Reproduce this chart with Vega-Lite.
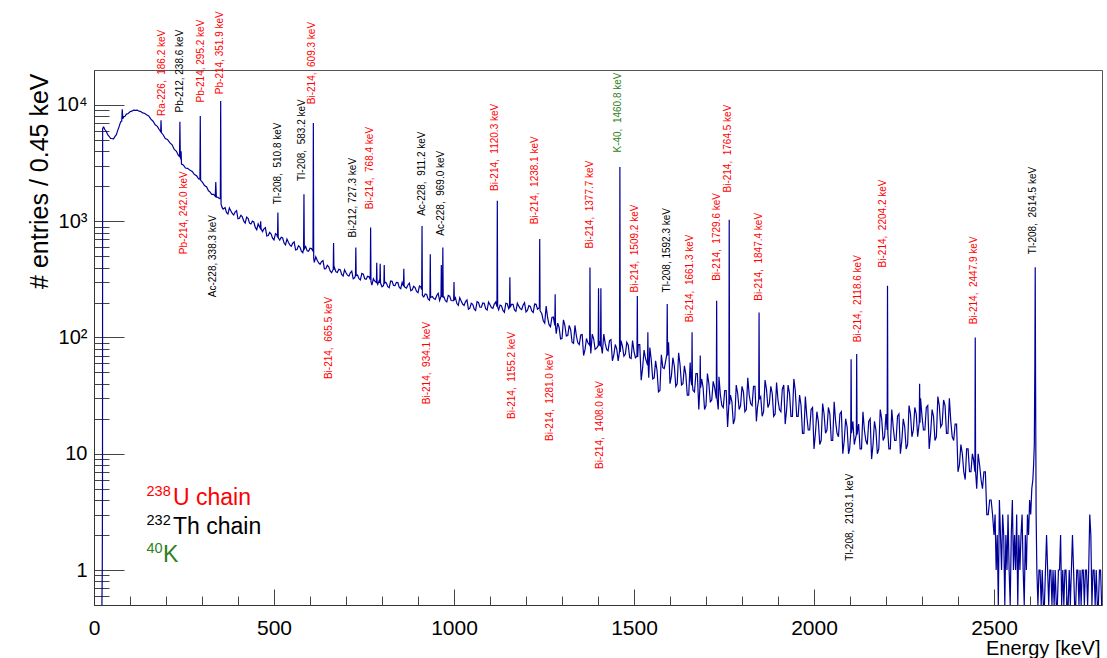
{
"$schema": "https://vega.github.io/schema/vega-lite/v6.json",
"width": 1008, "height": 535,
"autosize": {"type": "none"},
"padding": {"left": 94, "top": 70, "right": 5, "bottom": 53},
"background": "white",
"config": {"view": {"stroke": "#555", "strokeWidth": 1}, "font": "Liberation Sans"},
"datasets": {
"spec": [
{"E":22,"n":0},{"E":23,"n":1},{"E":23.6,"n":5},{"E":24,"n":6300},{"E":27,"n":6450},{"E":30,"n":6150},{"E":34,"n":5950},{"E":38,"n":5550},{"E":42,"n":5380},{"E":46,"n":5150},{"E":50,"n":5150},{"E":54,"n":5100},{"E":58,"n":5350},{"E":62,"n":5550},{"E":66,"n":6050},{"E":70,"n":6550},{"E":74,"n":7150},{"E":77,"n":7250},{"E":78.5,"n":9200},{"E":80,"n":7600},{"E":83,"n":7950},{"E":86,"n":8000},{"E":90,"n":8350},{"E":95,"n":8450},{"E":100,"n":8750},{"E":105,"n":8850},{"E":110,"n":9050},{"E":115,"n":9000},{"E":120,"n":9050},{"E":125,"n":8850},{"E":130,"n":8800},{"E":135,"n":8550},{"E":140,"n":8500},{"E":146,"n":8250},{"E":152,"n":8050},{"E":158,"n":7550},{"E":164,"n":7250},{"E":170,"n":6750},{"E":176,"n":6550},{"E":181,"n":6150},{"E":185.2,"n":5900},{"E":186.2,"n":7400},{"E":187.2,"n":5800},{"E":192,"n":5550},{"E":198,"n":5150},{"E":204,"n":5050},{"E":211,"n":4720},{"E":217,"n":4550},{"E":223,"n":4150},{"E":229,"n":4000},{"E":234,"n":3700},{"E":237.6,"n":3600},{"E":238.6,"n":7160},{"E":239.6,"n":4000},{"E":241,"n":3400},{"E":242,"n":4000},{"E":243,"n":3100},{"E":248,"n":3050},{"E":254,"n":2870},{"E":260,"n":2850},{"E":267,"n":2740},{"E":273,"n":2680},{"E":279,"n":2520},{"E":285,"n":2460},{"E":291,"n":2310},{"E":294.2,"n":2300},{"E":295.2,"n":8060},{"E":296.2,"n":2250},{"E":301,"n":2170},{"E":307,"n":2030},{"E":313,"n":1970},{"E":318,"n":1830},{"E":322,"n":1790},{"E":327,"n":1700},{"E":332,"n":1700},{"E":336.8,"n":1640},{"E":338.3,"n":2180},{"E":339.8,"n":1620},{"E":344,"n":1610},{"E":348,"n":1570},{"E":350.9,"n":1560},{"E":351.9,"n":10800},{"E":353,"n":1400},{"E":356,"n":1310},{"E":359,"n":1270},
{"E":364,"n":1310},{"E":372,"n":1152},{"E":380,"n":1229},{"E":388,"n":1134},{"E":396,"n":1231},{"E":404,"n":1059},{"E":412,"n":1092},{"E":420,"n":963},{"E":428,"n":1061},{"E":436,"n":947},{"E":444,"n":985},{"E":452,"n":846},{"E":460,"n":891},{"E":462,"n":870},{"E":463,"n":1000},{"E":464,"n":865},{"E":468,"n":814},{"E":476,"n":880},{"E":484,"n":754},{"E":492,"n":777},{"E":500,"n":690},{"E":508,"n":766},{"E":509.8,"n":725},{"E":510.8,"n":1190},{"E":511.8,"n":720},{"E":516,"n":688},{"E":524,"n":718},{"E":532,"n":625},{"E":540,"n":660},{"E":548,"n":610},{"E":556,"n":664},{"E":564,"n":572},{"E":572,"n":599},{"E":580,"n":537},{"E":582.2,"n":580},{"E":583.2,"n":1710},{"E":584.2,"n":578},{"E":588,"n":607},{"E":596,"n":551},{"E":604,"n":582},{"E":608.3,"n":555},{"E":609.3,"n":7000},{"E":610.3,"n":480},{"E":612,"n":442},{"E":620,"n":461},{"E":628,"n":426},{"E":636,"n":459},{"E":644,"n":391},{"E":652,"n":406},{"E":660,"n":361},{"E":664.5,"n":385},{"E":665.5,"n":650},{"E":666.5,"n":383},{"E":668,"n":401},{"E":676,"n":363},{"E":684,"n":383},{"E":692,"n":338},{"E":700,"n":360},{"E":708,"n":337},{"E":716,"n":373},{"E":724,"n":326},{"E":726.3,"n":342},{"E":727.3,"n":595},{"E":728.3,"n":341},{"E":732,"n":345},{"E":740,"n":313},{"E":748,"n":351},{"E":756,"n":317},{"E":764,"n":333},{"E":767.4,"n":315},{"E":768.4,"n":885},{"E":769.4,"n":302},{"E":772,"n":282},{"E":780,"n":305},{"E":784.4,"n":297},{"E":785.4,"n":440},{"E":786.4,"n":296},{"E":788,"n":287},{"E":793.9,"n":295},{"E":794.9,"n":430},{"E":795.9,"n":294},{"E":804,"n":279},{"E":805.2,"n":292},{"E":806.2,"n":420},{"E":807.2,"n":291},{"E":812,"n":295},{"E":820,"n":268},{"E":828,"n":304},{"E":836,"n":279},{"E":844,"n":297},{"E":852,"n":263},{"E":859.6,"n":277},{"E":860.6,"n":390},{"E":861.6,"n":276},{"E":868,"n":266},{"E":876,"n":293},{"E":884,"n":257},{"E":892,"n":269},{"E":900,"n":243},{"E":908,"n":272},{"E":910.2,"n":258},{"E":911.2,"n":912},{"E":912.2,"n":230},{"E":916,"n":223},{"E":924,"n":235},{"E":932,"n":209},{"E":933.1,"n":222},{"E":934.1,"n":521},{"E":935.1,"n":221},{"E":940,"n":225},{"E":948,"n":213},{"E":956,"n":240},{"E":963.8,"n":225},{"E":964.8,"n":420},{"E":965.8,"n":226},{"E":968,"n":226},{"E":969,"n":595},{"E":970,"n":222},{"E":972,"n":224},{"E":980,"n":202},{"E":988,"n":227},{"E":996,"n":207},{"E":999,"n":207},{"E":1000,"n":300},{"E":1001,"n":210},
{"E":1004,"n":220},{"E":1012,"n":189},{"E":1020,"n":206},{"E":1028,"n":189},{"E":1036,"n":211},{"E":1044,"n":179},{"E":1052,"n":193},{"E":1060,"n":171},{"E":1068,"n":200},{"E":1076,"n":182},{"E":1084,"n":197},{"E":1092,"n":172},{"E":1100,"n":191},{"E":1108,"n":178},{"E":1116,"n":202},{"E":1119.3,"n":184},{"E":1120.3,"n":1500},{"E":1121.3,"n":183},{"E":1124,"n":173},{"E":1132,"n":187},{"E":1140,"n":165},{"E":1148,"n":195},{"E":1154.2,"n":182},{"E":1155.2,"n":329},{"E":1156.2,"n":182},{"E":1164,"n":193},{"E":1172,"n":168},{"E":1180,"n":186},{"E":1188,"n":174},{"E":1196,"n":199},{"E":1204,"n":171},{"E":1212,"n":185},{"E":1220,"n":164},{"E":1228,"n":193},{"E":1237.1,"n":180},{"E":1238.1,"n":702},{"E":1239.1,"n":170},
{"E":1244,"n":160},{"E":1252,"n":133},{"E":1260,"n":148},{"E":1268,"n":124},{"E":1276,"n":150},{"E":1280,"n":127},{"E":1281,"n":236},{"E":1282,"n":125},{"E":1284,"n":108},{"E":1292,"n":122},{"E":1300,"n":98},{"E":1308,"n":127},{"E":1316,"n":104},{"E":1324,"n":117},{"E":1332,"n":89},{"E":1340,"n":103},{"E":1348,"n":87},{"E":1356,"n":106},{"E":1364,"n":79},{"E":1372,"n":90},{"E":1376.7,"n":86},{"E":1377.7,"n":400},{"E":1378.7,"n":86},{"E":1380,"n":73},{"E":1388,"n":97},{"E":1396,"n":81},{"E":1400.5,"n":85},{"E":1401.5,"n":265},{"E":1402.5,"n":85},{"E":1404,"n":93},{"E":1407,"n":84},{"E":1408,"n":265},{"E":1409,"n":84},{"E":1412,"n":73},{"E":1420,"n":89},{"E":1428,"n":77},{"E":1436,"n":96},{"E":1444,"n":71},{"E":1452,"n":80},{"E":1459.8,"n":76},{"E":1460.8,"n":2930},{"E":1461.8,"n":75},{"E":1468,"n":84},{"E":1476,"n":72},{"E":1484,"n":86},{"E":1492,"n":66},{"E":1500,"n":76},
{"E":1508.2,"n":69},{"E":1509.2,"n":227},{"E":1510.2,"n":68},{"E":1516,"n":87},{"E":1524,"n":55},{"E":1532,"n":66},{"E":1537.5,"n":58},{"E":1538.5,"n":111},{"E":1539.5,"n":57},{"E":1541,"n":45},{"E":1548,"n":64},{"E":1556,"n":45},{"E":1564,"n":52},{"E":1572,"n":35},{"E":1580,"n":55},{"E":1588,"n":63},{"E":1591.3,"n":72},{"E":1592.3,"n":194},{"E":1593.3,"n":70},{"E":1596,"n":91},{"E":1604,"n":47},{"E":1612,"n":57},{"E":1620,"n":40},{"E":1628,"n":58},{"E":1636,"n":40},{"E":1644,"n":48},{"E":1652,"n":32},{"E":1658,"n":43},{"E":1660.3,"n":39},{"E":1661.3,"n":111},{"E":1662.3,"n":39},{"E":1668,"n":34},{"E":1676,"n":49},{"E":1683,"n":37},{"E":1684,"n":70},{"E":1685,"n":37},{"E":1692,"n":37},{"E":1700,"n":26},{"E":1708,"n":40},{"E":1716,"n":29},{"E":1724,"n":37},{"E":1728.6,"n":30},{"E":1729.6,"n":207},{"E":1730.6,"n":30},{"E":1734,"n":24},{"E":1740,"n":32},{"E":1748,"n":25},{"E":1756,"n":35},{"E":1763.5,"n":26.5},{"E":1764.5,"n":1030},{"E":1765.5,"n":26.5},{"E":1772,"n":28},{"E":1780,"n":20},{"E":1788,"n":33},{"E":1796,"n":26},{"E":1804,"n":34},{"E":1812,"n":24},{"E":1820,"n":32},{"E":1828,"n":26},{"E":1836,"n":38},{"E":1843,"n":25},{"E":1846.4,"n":29.5},{"E":1847.4,"n":164},{"E":1848.4,"n":29.5},{"E":1852,"n":31},{"E":1860,"n":23},{"E":1868,"n":36},{"E":1876,"n":27},{"E":1884,"n":33},{"E":1892,"n":22},{"E":1900,"n":29},
{"E":1908,"n":23},{"E":1916,"n":39},{"E":1924,"n":24},{"E":1932,"n":33},{"E":1940,"n":21},{"E":1948,"n":35},{"E":1956,"n":21},{"E":1964,"n":26},{"E":1972,"n":15},{"E":1980,"n":21},{"E":1988,"n":16},{"E":1996,"n":25},{"E":2004,"n":15},{"E":2012,"n":19},{"E":2020,"n":13},{"E":2028,"n":22},{"E":2036,"n":16},{"E":2044,"n":22},{"E":2052,"n":13},{"E":2060,"n":19},{"E":2068,"n":14},{"E":2076,"n":23},{"E":2084,"n":13},{"E":2092,"n":17},{"E":2099,"n":11},{"E":2102.1,"n":15},{"E":2103.1,"n":65},{"E":2104.1,"n":15},{"E":2108,"n":19},{"E":2114,"n":13},{"E":2117.6,"n":14.6},{"E":2118.6,"n":72},{"E":2119.6,"n":14.6},{"E":2124,"n":18},{"E":2132,"n":11},{"E":2140,"n":16},{"E":2148,"n":12},{"E":2156,"n":20},{"E":2164,"n":12},{"E":2172,"n":16},{"E":2180,"n":11},{"E":2188,"n":20},{"E":2196,"n":14},{"E":2203.2,"n":16},{"E":2204.2,"n":279},{"E":2205.2,"n":15},{"E":2212,"n":11},{"E":2220,"n":17},{"E":2228,"n":13},{"E":2236,"n":22},{"E":2244,"n":13},{"E":2252,"n":17},{"E":2260,"n":12},{"E":2268,"n":22},{"E":2276,"n":16},{"E":2284,"n":22},{"E":2292.4,"n":18.5},{"E":2293.4,"n":40},{"E":2294.4,"n":18.5},{"E":2300,"n":21},{"E":2308,"n":16},{"E":2316,"n":26},{"E":2324,"n":15},{"E":2332,"n":21},{"E":2340,"n":14},{"E":2348,"n":26},{"E":2356,"n":18},{"E":2364,"n":26},{"E":2372,"n":15},{"E":2380,"n":19},{"E":2388,"n":13},{"E":2396,"n":18},{"E":2404,"n":8},{"E":2412,"n":10},{"E":2420,"n":6},{"E":2428,"n":11},{"E":2436,"n":7},{"E":2443,"n":9},{"E":2446.9,"n":7},{"E":2447.9,"n":100},{"E":2448.9,"n":7},{"E":2452,"n":5},{"E":2460,"n":8},{"E":2468,"n":5},{"E":2476,"n":7},{"E":2484,"n":3},{"E":2492,"n":4},{"E":2500,"n":2},
{"E":368,"n":1190},{"E":376,"n":1299},{"E":384,"n":1166},{"E":392,"n":1201},{"E":400,"n":1050},{"E":408,"n":1127},{"E":416,"n":1001},{"E":424,"n":1087},{"E":432,"n":963},{"E":440,"n":1001},{"E":448,"n":885},{"E":456,"n":949},{"E":472,"n":860},{"E":480,"n":748},{"E":488,"n":802},{"E":496,"n":715},{"E":504,"n":782},{"E":520,"n":728},{"E":528,"n":649},{"E":536,"n":702},{"E":544,"n":627},{"E":552,"n":647},{"E":560,"n":566},{"E":568,"n":614},{"E":576,"n":554},{"E":592,"n":556},{"E":600,"n":587},{"E":616,"n":493},{"E":624,"n":438},{"E":632,"n":449},{"E":640,"n":389},{"E":648,"n":418},{"E":656,"n":374},{"E":672,"n":367},{"E":680,"n":386},{"E":688,"n":348},{"E":696,"n":382},{"E":704,"n":344},{"E":712,"n":360},{"E":720,"n":320},{"E":736,"n":321},{"E":744,"n":356},{"E":752,"n":320},{"E":760,"n":336},{"E":776,"n":321},{"E":792,"n":307},{"E":800,"n":273},{"E":808,"n":300},{"E":816,"n":274},{"E":824,"n":306},{"E":832,"n":280},{"E":840,"n":298},{"E":848,"n":270},{"E":856,"n":298},{"E":864,"n":271},{"E":872,"n":283},{"E":880,"n":252},{"E":888,"n":276},{"E":896,"n":249},{"E":904,"n":277},{"E":920,"n":237},{"E":928,"n":215},{"E":944,"n":216},{"E":952,"n":230},{"E":960,"n":208},{"E":976,"n":207},{"E":984,"n":230},{"E":992,"n":208},
{"E":1008,"n":196},{"E":1016,"n":220},{"E":1024,"n":194},{"E":1032,"n":204},{"E":1040,"n":175},{"E":1048,"n":197},{"E":1056,"n":176},{"E":1064,"n":203},{"E":1072,"n":182},{"E":1080,"n":198},{"E":1088,"n":177},{"E":1096,"n":202},{"E":1104,"n":181},{"E":1112,"n":194},{"E":1128,"n":190},{"E":1136,"n":171},{"E":1144,"n":197},{"E":1152,"n":177},{"E":1160,"n":193},{"E":1168,"n":173},{"E":1176,"n":197},{"E":1184,"n":177},{"E":1192,"n":190},{"E":1200,"n":166},{"E":1208,"n":188},{"E":1216,"n":169},{"E":1224,"n":194},{"E":1232,"n":175},
{"E":1248,"n":139},{"E":1256,"n":186},{"E":1264,"n":129},{"E":1272,"n":149},{"E":1288,"n":133},{"E":1296,"n":97},{"E":1304,"n":142},{"E":1312,"n":103},{"E":1320,"n":127},{"E":1328,"n":91},{"E":1336,"n":127},{"E":1344,"n":90},{"E":1352,"n":105},{"E":1360,"n":70},{"E":1368,"n":98},{"E":1384,"n":107},{"E":1392,"n":79},{"E":1416,"n":107},{"E":1424,"n":79},{"E":1432,"n":94},{"E":1440,"n":63},{"E":1448,"n":87},{"E":1456,"n":63},{"E":1464,"n":94},{"E":1472,"n":69},{"E":1480,"n":91},{"E":1488,"n":67},{"E":1496,"n":94},{"E":1504,"n":67},
{"E":1512,"n":87},{"E":1520,"n":43},{"E":1528,"n":78},{"E":1544,"n":82},{"E":1552,"n":44},{"E":1560,"n":63},{"E":1568,"n":34},{"E":1576,"n":71},{"E":1584,"n":54},{"E":1600,"n":40},{"E":1608,"n":67},{"E":1616,"n":38},{"E":1624,"n":74},{"E":1632,"n":39},{"E":1640,"n":57},{"E":1648,"n":32},{"E":1656,"n":61},{"E":1664,"n":35},{"E":1672,"n":49},{"E":1680,"n":24},{"E":1688,"n":44},{"E":1696,"n":24},{"E":1704,"n":49},{"E":1712,"n":28},{"E":1720,"n":42},{"E":1736,"n":46},{"E":1744,"n":26},{"E":1752,"n":35},{"E":1760,"n":17},{"E":1768,"n":32},{"E":1776,"n":18},{"E":1784,"n":39},{"E":1792,"n":24},{"E":1800,"n":38},{"E":1808,"n":23},{"E":1816,"n":45},{"E":1824,"n":27},{"E":1832,"n":38},{"E":1840,"n":19},{"E":1856,"n":21},{"E":1864,"n":43},{"E":1872,"n":25},{"E":1880,"n":38},{"E":1888,"n":21},{"E":1896,"n":41},{"E":1904,"n":24},
{"E":1912,"n":36},{"E":1920,"n":18},{"E":1928,"n":39},{"E":1936,"n":21},{"E":1944,"n":44},{"E":1952,"n":21},{"E":1960,"n":32},{"E":1968,"n":15},{"E":1976,"n":31},{"E":1984,"n":16},{"E":1992,"n":24},{"E":2000,"n":11},{"E":2008,"n":23},{"E":2016,"n":12},{"E":2024,"n":27},{"E":2032,"n":15},{"E":2040,"n":25},{"E":2048,"n":13},{"E":2056,"n":28},{"E":2064,"n":15},{"E":2072,"n":22},{"E":2080,"n":10},{"E":2088,"n":20},{"E":2096,"n":10},{"E":2112,"n":12},{"E":2128,"n":11},{"E":2136,"n":23},{"E":2144,"n":13},{"E":2152,"n":19},{"E":2160,"n":9},{"E":2168,"n":19},{"E":2176,"n":10},{"E":2184,"n":24},{"E":2192,"n":13},{"E":2200,"n":22},{"E":2208,"n":11},{"E":2216,"n":24},{"E":2224,"n":13},{"E":2232,"n":21},{"E":2240,"n":10},{"E":2248,"n":20},{"E":2256,"n":11},{"E":2264,"n":26},{"E":2272,"n":14},{"E":2280,"n":25},{"E":2288,"n":14},{"E":2296,"n":30},{"E":2304,"n":16},{"E":2312,"n":25},{"E":2320,"n":11},{"E":2328,"n":24},{"E":2336,"n":13},{"E":2344,"n":31},{"E":2352,"n":17},{"E":2360,"n":29},{"E":2368,"n":15},{"E":2376,"n":30},{"E":2384,"n":14},{"E":2392,"n":18},{"E":2400,"n":7},{"E":2408,"n":12},{"E":2416,"n":7},{"E":2424,"n":11},{"E":2432,"n":7},{"E":2440,"n":10},{"E":2456,"n":10},{"E":2464,"n":6},{"E":2472,"n":7},{"E":2480,"n":3},{"E":2488,"n":4},{"E":2496,"n":3},
{"E":2503,"n":3},{"E":2506,"n":1},{"E":2509,"n":2},{"E":2512,"n":0},{"E":2515,"n":4},{"E":2518,"n":2},{"E":2521,"n":1},{"E":2524,"n":3},{"E":2527,"n":2},{"E":2530,"n":0},{"E":2533,"n":2},{"E":2536,"n":1},{"E":2539,"n":3},{"E":2542,"n":1},{"E":2545,"n":0},{"E":2548,"n":2},{"E":2551,"n":4},{"E":2554,"n":1},{"E":2557,"n":2},{"E":2560,"n":1},{"E":2563,"n":3},{"E":2566,"n":0},{"E":2569,"n":2},{"E":2572,"n":1},{"E":2575,"n":2},{"E":2578,"n":3},{"E":2581,"n":1},{"E":2584,"n":0},{"E":2587,"n":2},{"E":2590,"n":1},{"E":2593,"n":3},{"E":2596,"n":2},{"E":2599,"n":4},{"E":2602,"n":3},{"E":2605,"n":5},{"E":2608,"n":6},{"E":2610,"n":8},{"E":2612,"n":12},{"E":2613.5,"n":60},{"E":2614.5,"n":403},{"E":2615.5,"n":40},{"E":2617,"n":3},
{"E":2619,"n":1},{"E":2622,"n":0},{"E":2625,"n":1},{"E":2628,"n":1},{"E":2631,"n":0},{"E":2634,"n":1},{"E":2637,"n":0},{"E":2640,"n":0},{"E":2643,"n":1},{"E":2646,"n":2},{"E":2649,"n":1},{"E":2652,"n":0},{"E":2655,"n":1},{"E":2658,"n":1},{"E":2661,"n":0},{"E":2664,"n":1},{"E":2667,"n":0},{"E":2670,"n":1},{"E":2673,"n":0},{"E":2676,"n":0},{"E":2679,"n":1},{"E":2682,"n":1},{"E":2685,"n":2},{"E":2688,"n":0},{"E":2691,"n":1},{"E":2694,"n":0},{"E":2697,"n":1},{"E":2700,"n":1},{"E":2703,"n":0},{"E":2706,"n":0},{"E":2709,"n":1},{"E":2712,"n":0},{"E":2715,"n":1},{"E":2718,"n":2},{"E":2721,"n":1},{"E":2724,"n":0},{"E":2727,"n":0},{"E":2730,"n":1},{"E":2733,"n":1},{"E":2736,"n":0},{"E":2739,"n":1},{"E":2742,"n":0},{"E":2745,"n":1},{"E":2748,"n":1},{"E":2751,"n":0},{"E":2754,"n":1},{"E":2757,"n":1},{"E":2760,"n":0},{"E":2763,"n":1},{"E":2766,"n":3},{"E":2769,"n":2},{"E":2772,"n":0},{"E":2775,"n":1},{"E":2778,"n":1},{"E":2781,"n":0},{"E":2784,"n":1},{"E":2787,"n":0},{"E":2790,"n":0},{"E":2793,"n":1},{"E":2796,"n":1},{"E":2799,"n":0}
],
"labels": [
{"x":190,"y":8060,"label":"Ra-226,\u00a0 186.2 keV","chain":"U"},
{"x":239,"y":8620,"label":"Pb-212, 238.6 keV","chain":"Th"},
{"x":297,"y":10500,"label":"Pb-214, 295.2 keV","chain":"U"},
{"x":350,"y":12400,"label":"Pb-214, 351.9 keV","chain":"U"},
{"x":512,"y":1400,"label":"Tl-208,\u00a0 510.8 keV","chain":"Th"},
{"x":577,"y":2220,"label":"Tl-208,\u00a0 583.2 keV","chain":"Th"},
{"x":605,"y":10160,"label":"Bi-214,\u00a0 609.3 keV","chain":"U"},
{"x":251,"y":521,"label":"Pb-214, 242.0 keV","chain":"U"},
{"x":331,"y":222,"label":"Ac-228, 338.3 keV","chain":"Th"},
{"x":720,"y":726,"label":"Bi-212, 727.3 keV","chain":"Th"},
{"x":767,"y":1270,"label":"Bi-214,\u00a0 768.4 keV","chain":"U"},
{"x":910,"y":1113,"label":"Ac-228,\u00a0 911.2 keV","chain":"Th"},
{"x":964,"y":750,"label":"Ac-228,\u00a0 969.0 keV","chain":"Th"},
{"x":653,"y":43.9,"label":"Bi-214,\u00a0 665.5 keV","chain":"U"},
{"x":924,"y":26.7,"label":"Bi-214,\u00a0 934.1 keV","chain":"U"},
{"x":1114,"y":1825,"label":"Bi-214,\u00a0 1120.3 keV","chain":"U"},
{"x":1225,"y":944,"label":"Bi-214,\u00a0 1238.1 keV","chain":"U"},
{"x":1378,"y":583,"label":"Bi-214,\u00a0 1377.7 keV","chain":"U"},
{"x":1456,"y":3900,"label":"K-40,\u00a0 1460.8 keV","chain":"K"},
{"x":1503,"y":244,"label":"Bi-214,\u00a0 1509.2 keV","chain":"U"},
{"x":1160,"y":19.9,"label":"Bi-214,\u00a0 1155.2 keV","chain":"U"},
{"x":1267,"y":12.9,"label":"Bi-214,\u00a0 1281.0 keV","chain":"U"},
{"x":1406,"y":7.4,"label":"Bi-214,\u00a0 1408.0 keV","chain":"U"},
{"x":1591,"y":244,"label":"Tl-208, 1592.3 keV","chain":"Th"},
{"x":1656,"y":135,"label":"Bi-214,\u00a0 1661.3 keV","chain":"U"},
{"x":1730,"y":307,"label":"Bi-214,\u00a0 1729.6 keV","chain":"U"},
{"x":1762,"y":1767,"label":"Bi-214,\u00a0 1764.5 keV","chain":"U"},
{"x":1847,"y":207,"label":"Bi-214,\u00a0 1847.4 keV","chain":"U"},
{"x":2123,"y":91,"label":"Bi-214,\u00a0 2118.6 keV","chain":"U"},
{"x":2193,"y":401,"label":"Bi-214,\u00a0 2204.2 keV","chain":"U"},
{"x":2445,"y":130,"label":"Bi-214,\u00a0 2447.9 keV","chain":"U"},
{"x":2608,"y":521,"label":"Tl-208,\u00a0 2614.5 keV","chain":"Th"},
{"x":2100,"y":1.2,"label":"Tl-208,\u00a0 2103.1 keV","chain":"Th"}
],
"legend": [
{"part":"main","x":219.4,"y":3.62,"label":"U chain","chain":"U"},
{"part":"main","x":219.4,"y":2.04,"label":"Th chain","chain":"Th"},
{"part":"main","x":191.7,"y":1.17,"label":"K","chain":"K"},
{"part":"sup","x":146,"y":3.62,"label":"238","chain":"U"},
{"part":"sup","x":146,"y":2.04,"label":"232","chain":"Th"},
{"part":"sup","x":146,"y":1.17,"label":"40","chain":"K"}
]
},
"layer": [
{
"data": {"name": "spec"},
"mark": {"type": "line", "color": "#000099", "strokeWidth": 1.2, "invalid": "show", "clip": true},
"encoding": {
"x": {"field": "E", "type": "quantitative",
 "scale": {"domain": [0, 2800], "nice": false, "zero": false},
 "axis": {"orient": "bottom", "values": [0, 500, 1000, 1500, 2000, 2500], "format": "d", "tickSize": -16, "tickColor": "#444", "domainColor": "#333", "labelFontSize": 21, "labelColor": "#000", "labelPadding": 28, "labelFlush": false, "labelOverlap": false, "grid": false,
  "title": "Energy [keV]", "titleFontSize": 20, "titleFontWeight": "normal", "titleColor": "#000", "titleAlign": "right", "titleAnchor": "end", "titleBaseline": "alphabetic", "titleX": 1006, "titleY": 49}},
"y": {"field": "n", "type": "quantitative",
 "scale": {"type": "log", "domain": [0.5, 20000], "nice": false, "clamp": true},
 "axis": {"orient": "left", "values": [1, 10, 100, 1000, 10000], "tickSize": -30, "tickColor": "#444", "domainColor": "#333", "labelFontSize": 20, "labelColor": "#000", "labelPadding": 37, "labelFlush": false, "labelOverlap": false, "grid": false,
  "labelExpr": "datum.value >= 9999 ? '10⁴' : datum.value >= 999 ? '10³' : datum.value >= 99 ? '10²' : datum.value >= 9 ? '10' : '1'",
  "title": "# entries / 0.45 keV", "titleFontSize": 25, "titleFontWeight": "normal", "titleColor": "#000", "titleAngle": 270, "titleAlign": "right", "titleAnchor": "end", "titleBaseline": "alphabetic", "titleX": -47, "titleY": 3}}
}
},
{
"data": {"name": "labels"},
"mark": {"type": "text", "angle": 270, "align": "left", "baseline": "middle", "fontSize": 10, "font": "Liberation Sans"},
"encoding": {
"x": {"field": "x", "type": "quantitative", "scale": {"domain": [0, 2800], "nice": false, "zero": false},
 "axis": {"orient": "bottom", "values": [100,200,300,400,600,700,800,900,1100,1200,1300,1400,1600,1700,1800,1900,2100,2200,2300,2400,2600,2700], "tickSize": -9, "tickColor": "#444", "labels": false, "domain": false, "grid": false, "title": null}},
"y": {"field": "y", "type": "quantitative", "scale": {"type": "log", "domain": [0.5, 20000], "nice": false, "clamp": true},
 "axis": {"orient": "left", "values": [0.6,0.7,0.8,0.9,2,3,4,5,6,7,8,9,20,30,40,50,60,70,80,90,200,300,400,500,600,700,800,900,2000,3000,4000,5000,6000,7000,8000,9000], "tickSize": -15, "tickColor": "#444", "labels": false, "domain": false, "grid": false, "title": null}},
"text": {"field": "label", "type": "nominal"},
"color": {"field": "chain", "type": "nominal", "scale": {"domain": ["U", "Th", "K"], "range": ["#ff0000", "#000000", "#2f7f23"]}, "legend": null}
}
},
{
"data": {"name": "legend"},
"transform": [{"filter": "datum.part == 'main'"}],
"mark": {"type": "text", "align": "left", "baseline": "alphabetic", "fontSize": 23, "font": "Liberation Sans"},
"encoding": {
"x": {"field": "x", "type": "quantitative", "scale": {"domain": [0, 2800], "nice": false, "zero": false}, "axis": null},
"y": {"field": "y", "type": "quantitative", "scale": {"type": "log", "domain": [0.5, 20000], "nice": false, "clamp": true}, "axis": null},
"text": {"field": "label", "type": "nominal"},
"color": {"field": "chain", "type": "nominal", "scale": {"domain": ["U", "Th", "K"], "range": ["#ff0000", "#000000", "#2f7f23"]}, "legend": null}
}
},
{
"data": {"name": "legend"},
"transform": [{"filter": "datum.part == 'sup'"}],
"mark": {"type": "text", "align": "left", "baseline": "alphabetic", "fontSize": 14.5, "dy": -9, "font": "Liberation Sans"},
"encoding": {
"x": {"field": "x", "type": "quantitative", "scale": {"domain": [0, 2800], "nice": false, "zero": false}, "axis": null},
"y": {"field": "y", "type": "quantitative", "scale": {"type": "log", "domain": [0.5, 20000], "nice": false, "clamp": true}, "axis": null},
"text": {"field": "label", "type": "nominal"},
"color": {"field": "chain", "type": "nominal", "scale": {"domain": ["U", "Th", "K"], "range": ["#ff0000", "#000000", "#2f7f23"]}, "legend": null}
}
}
],
"resolve": {"axis": {"x": "independent", "y": "independent"}}
}
